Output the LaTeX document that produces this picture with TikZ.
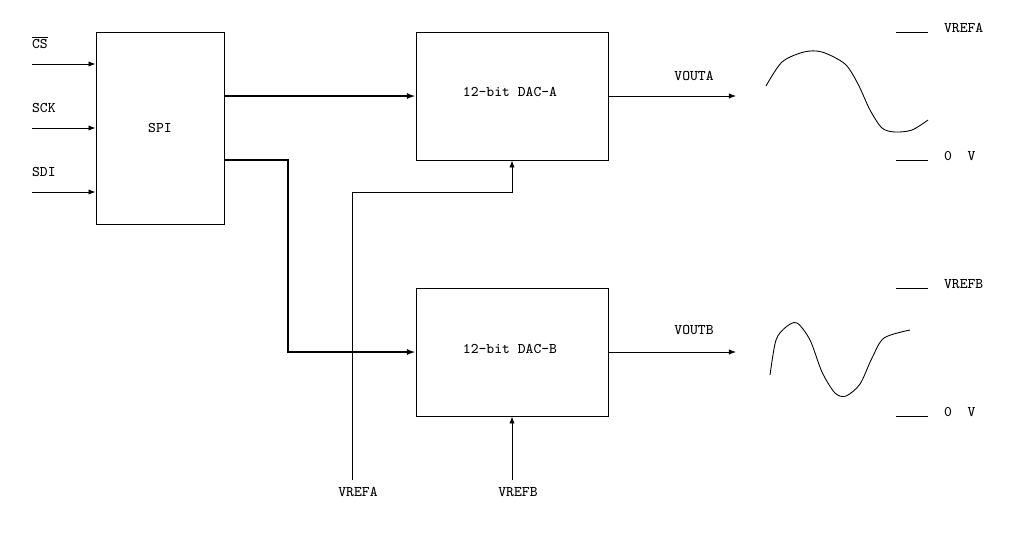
\documentclass[tikz,border=0pt]{standalone}
\usetikzlibrary{arrows.meta}

\tikzset{
	blok/.style={draw, rectangle, line width=0.5pt, inner sep=0pt},
	sygnal/.style={line width=0.5pt, -{Latex[length=4pt,width=3pt]}},
	szyna/.style={line width=1.2pt, -{Latex[length=5pt,width=3.5pt]}},
	opis/.style={font=\ttfamily\fontsize{8.4}{9}\selectfont, inner sep=1pt}
}

\begin{document}
\begin{tikzpicture}[x=0.02cm, y=-0.02cm]
	\useasboundingbox (0,0) rectangle (1025,545);

	%bloki
	\node[blok, minimum width=2.56cm, minimum height=3.84cm] (spi) at (160,128) {};
	\node[opis] at (160,128) {SPI};
	\node[blok, minimum width=3.84cm, minimum height=2.56cm] (daca) at (512,96) {};
	\node[opis] at (510,92) {12-bit DAC-A};
	\node[blok, minimum width=3.84cm, minimum height=2.56cm] (dacb) at (512,352) {};
	\node[opis] at (510,349) {12-bit DAC-B};

	%wejscia SPI
	\foreach \nazwa/\y/\tekst in {cs/64/{$\overline{\mbox{CS}}$}, sck/128/SCK, sdi/192/SDI} {
		\coordinate (\nazwa) at (32,\y);
		\node[opis, anchor=south west] (l\nazwa) at (30,\y-13) {\tekst};
		\draw[sygnal] (\nazwa) -- (\nazwa -| spi.west);
	}

	%szyny danych
	\draw[szyna] (spi.east |- daca.west) -- (daca.west);
	\coordinate (zl) at (288,160);
	\draw[szyna] (spi.east |- zl) -- (zl) |- (dacb.west);

	%napiecia odniesienia
	\coordinate (refa) at (352,480);
	\node[opis] (lrefa) at (358,492) {VREFA};
	\draw[sygnal] (refa) -- (352,192) -| (daca.south);
	\coordinate (refb) at (512,480);
	\node[opis] (lrefb) at (518,492) {VREFB};
	\draw[sygnal] (refb) -- (dacb.south);

	%wyjscia
	\coordinate (outa) at (736,96);
	\draw[sygnal] (daca.east) -- (outa);
	\node[opis] (louta) at (694,76) {VOUTA};
	\coordinate (outb) at (736,352);
	\draw[sygnal] (dacb.east) -- (outb);
	\node[opis] (loutb) at (694,330) {VOUTB};

	%poziomy
	\foreach \y/\tekst in {32/VREFA, 160/0\ \ V, 288/VREFB, 416/0\ \ V} {
		\draw[line width=0.5pt] (896,\y) -- (928,\y);
		\node[opis, anchor=west] at (942,\y-4) {\tekst};
	}

	%przebiegi
	\draw[line width=0.5pt, smooth] plot coordinates {(766,86) (782,62) (804,52) (822,52) (845,64) (858,84) (870,110) (882,128) (895,132) (912,130) (928,120)};
	\draw[line width=0.5pt, smooth] plot coordinates {(770,375) (776,340) (786,327) (797,323) (810,340) (822,372) (835,393) (846,396) (860,384) (872,358) (884,338) (910,330)};
\end{tikzpicture}
\end{document}
